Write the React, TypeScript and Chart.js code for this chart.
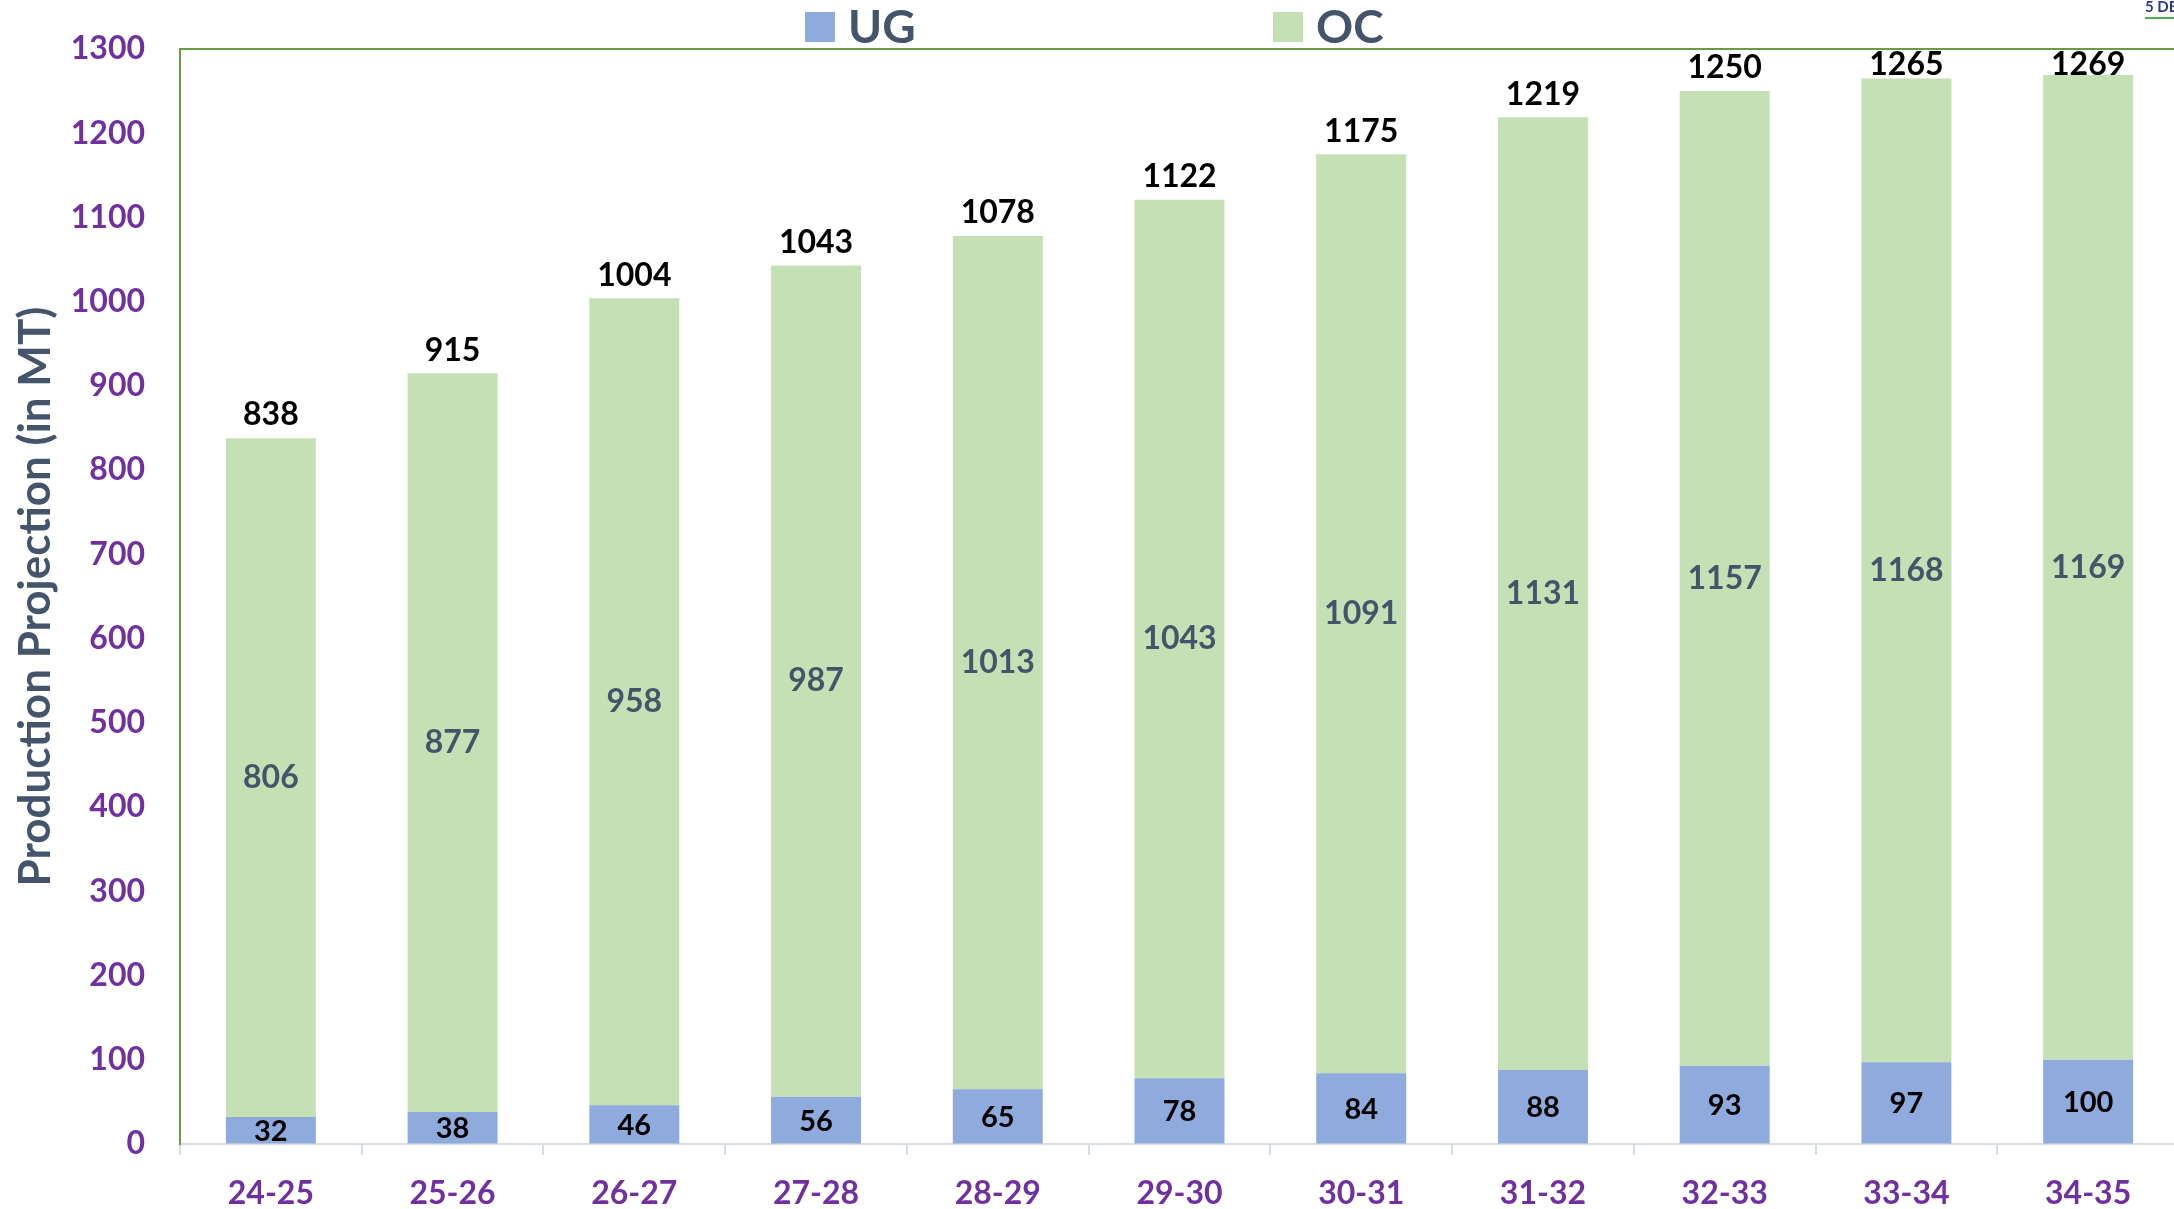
import React, { useEffect, useRef } from "react";
import { Chart, registerables } from "chart.js";

Chart.register(...registerables);

const categories = ["24-25", "25-26", "26-27", "27-28", "28-29", "29-30", "30-31", "31-32", "32-33", "33-34", "34-35"];
const ugValues = [32, 38, 46, 56, 65, 78, 84, 88, 93, 97, 100];
const ocValues = [806, 877, 958, 987, 1013, 1043, 1091, 1131, 1157, 1168, 1169];
const totalValues = [838, 915, 1004, 1043, 1078, 1122, 1175, 1219, 1250, 1265, 1269];
const yTitle = "Production Projection (in MT)";
const seriesNames = ["UG", "OC"];

const FONT = "Lato, 'Open Sans', sans-serif";
const PURPLE = "#7030A0";
const SLATE = "#44546A";
const UG_COLOR = "#8FAADC";
const OC_COLOR = "#C5E0B4";
const GREEN = "#6A9B45";
const LIGHT = "#D6DEE6";

const overlayPlugin = {
  id: "overlay",
  afterDatasetsDraw(chart: any) {
    const ctx = chart.ctx;
    const ugMeta = chart.getDatasetMeta(0);
    const ocMeta = chart.getDatasetMeta(1);
    ctx.save();
    ctx.textAlign = "center";
    ctx.textBaseline = "middle";
    ugMeta.data.forEach((bar: any, i: number) => {
      ctx.fillStyle = "#000000";
      ctx.font = `bold 29px ${FONT}`;
      ctx.fillText(String(ugValues[i]), bar.x, (bar.y + bar.base) / 2 + 1);
    });
    ocMeta.data.forEach((bar: any, i: number) => {
      ctx.fillStyle = SLATE;
      ctx.font = `bold 32px ${FONT}`;
      ctx.fillText(String(ocValues[i]), bar.x, (bar.y + bar.base) / 2);
      ctx.fillStyle = "#000000";
      const cy = Math.max(bar.y - 23, 65);
      ctx.fillText(String(totalValues[i]), bar.x, cy);
    });
    ctx.restore();
  },
  afterDraw(chart: any) {
    const ctx = chart.ctx;
    const a = chart.chartArea;
    ctx.save();
    // top border of plot area
    ctx.strokeStyle = GREEN;
    ctx.lineWidth = 2;
    ctx.beginPath();
    ctx.moveTo(a.left, a.top);
    ctx.lineTo(a.right + 10, a.top);
    ctx.stroke();
    // legend
    const items = [
      { box: 805, text: 848, color: UG_COLOR, label: seriesNames[0] },
      { box: 1273, text: 1316, color: OC_COLOR, label: seriesNames[1] },
    ];
    ctx.textAlign = "left";
    ctx.textBaseline = "middle";
    ctx.font = `bold 46px ${FONT}`;
    items.forEach((it) => {
      ctx.fillStyle = it.color;
      ctx.fillRect(it.box, 12, 30, 30);
      ctx.fillStyle = SLATE;
      ctx.fillText(it.label, it.text, 28);
    });
    // cropped fragment top-right
    ctx.fillStyle = "#2E3A87";
    ctx.font = `bold 15px ${FONT}`;
    ctx.textBaseline = "alphabetic";
    ctx.fillText("5 DE", 2145, 12);
    ctx.strokeStyle = "#4CAF50";
    ctx.lineWidth = 2;
    ctx.beginPath();
    ctx.moveTo(2145, 18);
    ctx.lineTo(2180, 18);
    ctx.stroke();
    ctx.restore();
  },
};

export default function App() {
  const ref = useRef<HTMLCanvasElement | null>(null);
  useEffect(() => {
    if (!ref.current) return;
    const chart = new Chart(ref.current, {
      type: "bar",
      data: {
        labels: categories,
        datasets: [
          {
            label: seriesNames[0],
            data: ugValues,
            backgroundColor: UG_COLOR,
            borderWidth: 0,
            barPercentage: 0.495,
            categoryPercentage: 1,
          },
          {
            label: seriesNames[1],
            data: ocValues,
            backgroundColor: OC_COLOR,
            borderWidth: 0,
            barPercentage: 0.495,
            categoryPercentage: 1,
          },
        ],
      },
      options: {
        animation: false,
        responsive: true,
        maintainAspectRatio: false,
        layout: { padding: { top: 49, right: 1, left: 0, bottom: 0 } },
        plugins: {
          legend: { display: false },
          tooltip: { enabled: false },
        },
        scales: {
          x: {
            stacked: true,
            grid: {
              offset: true,
              drawOnChartArea: false,
              drawTicks: true,
              tickLength: 11,
              color: LIGHT,
              lineWidth: 2,
            },
            border: { display: true, color: LIGHT, width: 2 },
            ticks: {
              color: PURPLE,
              font: { family: FONT, size: 32, weight: "bold" },
              padding: 19,
              maxRotation: 0,
              autoSkip: false,
            },
            afterFit: (s: any) => {
              s.height = 65;
            },
          },
          y: {
            stacked: true,
            min: 0,
            max: 1300,
            grid: { drawOnChartArea: false, drawTicks: false },
            border: { display: true, color: GREEN, width: 2 },
            ticks: {
              stepSize: 100,
              color: PURPLE,
              font: { family: FONT, size: 32, weight: "bold" },
              padding: 35,
              callback: (v: any) => String(v),
            },
            title: {
              display: true,
              text: yTitle,
              color: SLATE,
              font: { family: FONT, size: 44, weight: "bold" },
              padding: { top: 9, bottom: 0 },
            },
            afterFit: (s: any) => {
              s.width = 180;
              s.paddingTop = 0;
              s.paddingBottom = 0;
            },
          },
        },
      },
      plugins: [overlayPlugin],
    });
    return () => chart.destroy();
  }, []);

  return (
    <div style={{ position: "fixed", left: 0, top: 0, width: 2174, height: 1209, overflow: "hidden", background: "#ffffff" }}>
      <div style={{ position: "relative", width: 2180, height: 1209 }}>
        <canvas ref={ref} />
      </div>
    </div>
  );
}
